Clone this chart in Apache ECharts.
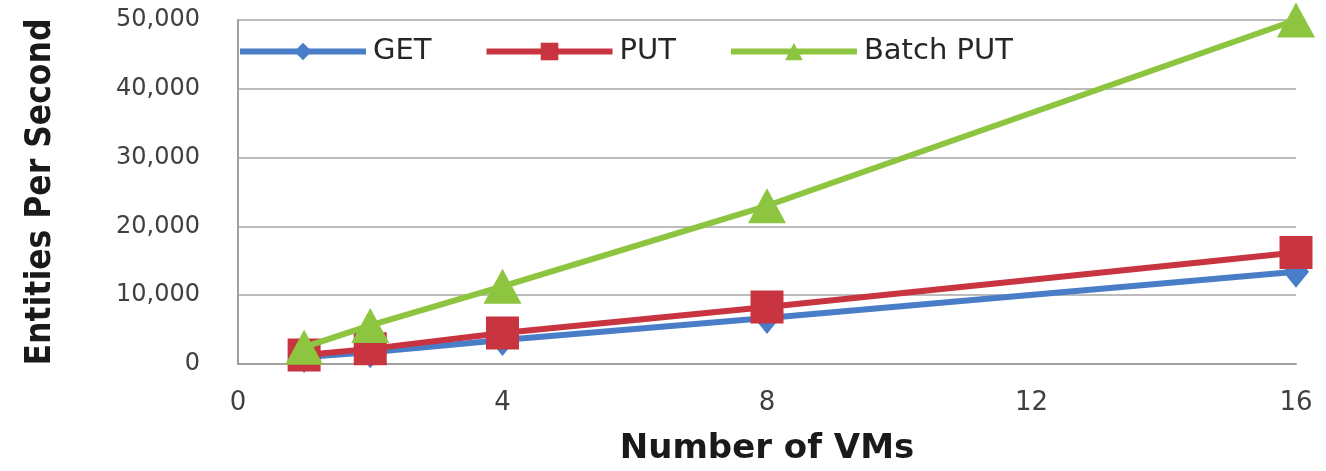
<!DOCTYPE html>
<html>
<head>
<meta charset="utf-8">
<script src="https://cdn.jsdelivr.net/npm/echarts@6/dist/echarts.min.js"></script>
<style>
html,body{margin:0;padding:0;background:#fff;}
#chart{width:1326px;height:471px;}
</style>
</head>
<body>
<div id="chart"></div>
<script>
const vms = [1, 2, 4, 8, 16];
const getValues = [1000, 1700, 3500, 6700, 13400];
const putValues = [1300, 2200, 4500, 8300, 16200];
const batchPutValues = [2450, 5600, 11300, 23000, 50000];
const seriesNames = ['GET', 'PUT', 'Batch PUT'];
const xTicks = [0, 4, 8, 12, 16];
const yTicks = [0, 10000, 20000, 30000, 40000, 50000];

const pairs = vals => vms.map((x, i) => [x, vals[i]]);
const colors = ['#4a7dc8', '#c8343f', '#8dc540'];

const chart = echarts.init(document.getElementById('chart'), null, {renderer: 'canvas'});
chart.setOption({
  animation: false,
  backgroundColor: '#ffffff',
  grid: {left: 238, right: 30, top: 20, bottom: 106, containLabel: false},
  legend: {
    left: 232, top: 32,
    itemWidth: 126, itemHeight: 22, itemGap: 52,
    lineStyle: {width: 6},
    textStyle: {fontFamily: 'DejaVu Sans', fontSize: 29, color: '#262626', padding: [0, 0, 0, 2]},
    data: seriesNames
  },
  xAxis: {
    type: 'value',
    min: xTicks[0], max: xTicks[xTicks.length - 1], interval: 4,
    name: 'Number of VMs',
    nameLocation: 'middle', nameGap: 68,
    nameTextStyle: {fontFamily: 'DejaVu Sans', fontWeight: 'bold', fontSize: 34, color: '#1a1a1a'},
    axisLine: {show: true, lineStyle: {color: '#a0a0a0', width: 2}},
    axisTick: {show: false},
    splitLine: {show: false},
    axisLabel: {fontFamily: 'DejaVu Sans', fontSize: 26, color: '#404040', margin: 26,
      customValues: xTicks}
  },
  yAxis: {
    type: 'value',
    min: yTicks[0], max: yTicks[yTicks.length - 1], interval: 10000,
    name: 'Entities Per Second',
    nameLocation: 'middle', nameGap: 180, nameRotate: 90,
    nameTextStyle: {fontFamily: 'DejaVu Sans Condensed', fontWeight: 'bold', fontSize: 35, color: '#1a1a1a'},
    axisLine: {show: true, lineStyle: {color: '#a0a0a0', width: 2}},
    axisTick: {show: false},
    splitLine: {show: true, lineStyle: {color: '#a6a6a6', width: 1.5}},
    axisLabel: {fontFamily: 'DejaVu Sans', fontSize: 24, color: '#404040', margin: 38,
      formatter: v => v.toLocaleString('en-US')}
  },
  series: [
    {name: seriesNames[0], type: 'line', data: pairs(getValues), color: colors[0],
      symbol: 'diamond', symbolSize: [26, 32], lineStyle: {width: 6}, z: 2},
    {name: seriesNames[1], type: 'line', data: pairs(putValues), color: colors[1],
      symbol: 'rect', symbolSize: 33, lineStyle: {width: 6}, z: 3},
    {name: seriesNames[2], type: 'line', data: pairs(batchPutValues), color: colors[2],
      symbol: 'triangle', symbolSize: [38, 35], lineStyle: {width: 6}, z: 4}
  ]
});
</script>
</body>
</html>
